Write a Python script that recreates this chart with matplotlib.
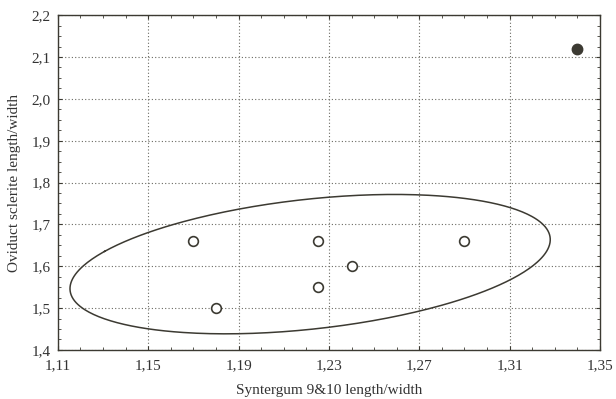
import numpy as np
import matplotlib
matplotlib.use("Agg")
import matplotlib.pyplot as plt
from matplotlib.ticker import FuncFormatter, AutoMinorLocator

# Data
group_x = [1.17, 1.18, 1.225, 1.225, 1.24, 1.29]
group_y = [1.66, 1.50, 1.66, 1.55, 1.60, 1.66]
outlier_x = [1.34]
outlier_y = [2.12]
x_ticks = [1.11, 1.15, 1.19, 1.23, 1.27, 1.31, 1.35]
y_ticks = [1.4, 1.5, 1.6, 1.7, 1.8, 1.9, 2.0, 2.1, 2.2]
x_label = "Syntergum 9&10 length/width"
y_label = "Oviduct sclerite length/width"

plt.rcParams['font.family'] = ['Liberation Serif', 'DejaVu Serif']

fig = plt.figure(figsize=(6.16, 3.99), dpi=100)
ax = fig.add_axes([0.094, 0.123, 0.880, 0.839])

ink = '#3c3a32'

# 95% confidence ellipse computed from the group
gx = np.array(group_x); gy = np.array(group_y)
cov = np.cov(gx, gy)
vals, vecs = np.linalg.eigh(cov)
k = np.sqrt(5.991)
t = np.linspace(0, 2 * np.pi, 400)
circ = np.vstack([np.cos(t), np.sin(t)])
pts = vecs @ (np.sqrt(vals)[:, None] * circ) * k
ax.plot(gx.mean() + pts[0], gy.mean() + pts[1], color=ink, lw=1.1, zorder=3)

ax.plot(group_x, group_y, linestyle='none', marker='o', markersize=7,
        markerfacecolor='white', markeredgecolor=ink, markeredgewidth=1.2, zorder=4)
ax.plot(outlier_x, outlier_y, linestyle='none', marker='o', markersize=7.5,
        markerfacecolor=ink, markeredgecolor=ink, zorder=4)

ax.set_xlim(x_ticks[0], x_ticks[-1])
ax.set_ylim(y_ticks[0], y_ticks[-1])
ax.set_xticks(x_ticks)
ax.set_yticks(y_ticks)
ax.xaxis.set_major_formatter(FuncFormatter(lambda v, p: f"{v:.2f}".replace('.', ',')))
ax.yaxis.set_major_formatter(FuncFormatter(lambda v, p: f"{v:.1f}".replace('.', ',')))
ax.xaxis.set_minor_locator(AutoMinorLocator(4))
ax.yaxis.set_minor_locator(AutoMinorLocator(4))

ax.grid(True, which='major', linestyle=(0, (1, 2)), color='#6a6a62', lw=0.8)
ax.tick_params(which='both', direction='in', top=True, right=True, color=ink,
               labelsize=11, labelcolor='#333333')
ax.tick_params(axis='x', which='major', pad=7)
ax.tick_params(axis='y', which='major', pad=5)
ax.tick_params(which='major', length=3)
ax.tick_params(which='minor', length=2)
for s in ax.spines.values():
    s.set_color(ink)
    s.set_linewidth(1.0)

ax.set_xlabel(x_label, fontsize=11, color='#333333', labelpad=8)
ax.set_ylabel(y_label, fontsize=11, color='#333333', labelpad=8)

fig.savefig("out.png", dpi=100)
